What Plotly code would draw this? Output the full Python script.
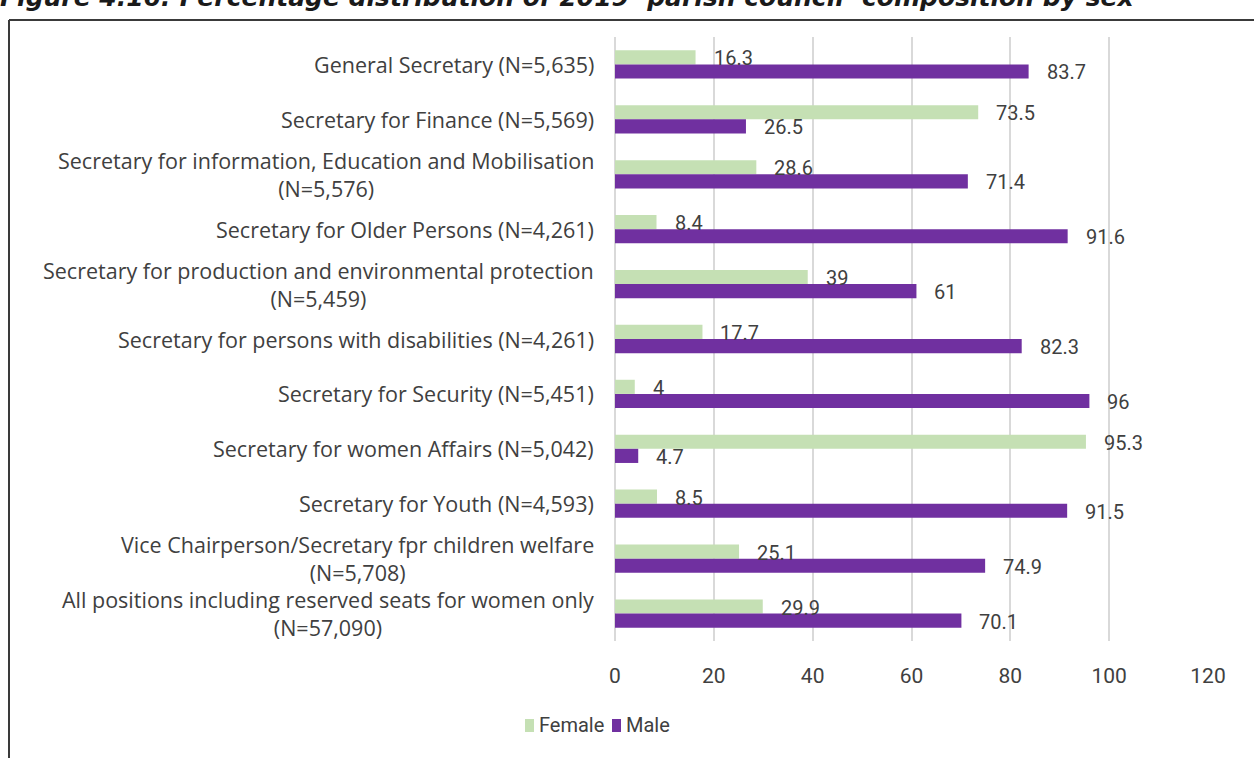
import plotly.graph_objects as go

# Parish council positions (top to bottom) and share of each sex, in percent
positions = [
    "General Secretary (N=5,635)",
    "Secretary for Finance (N=5,569)",
    "Secretary for information, Education and Mobilisation<br>(N=5,576)",
    "Secretary for Older Persons (N=4,261)",
    "Secretary for production and environmental protection<br>(N=5,459)",
    "Secretary for persons with disabilities (N=4,261)",
    "Secretary for Security (N=5,451)",
    "Secretary for women Affairs (N=5,042)",
    "Secretary for Youth (N=4,593)",
    "Vice Chairperson/Secretary fpr children welfare<br>(N=5,708)",
    "All positions including reserved seats for women only<br>(N=57,090)",
]
female = [16.3, 73.5, 28.6, 8.4, 39, 17.7, 4, 95.3, 8.5, 25.1, 29.9]
male = [83.7, 26.5, 71.4, 91.6, 61, 82.3, 96, 4.7, 91.5, 74.9, 70.1]
x_ticks = [0, 20, 40, 60, 80, 100, 120]

FEMALE_COLOR = "#C5E0B4"
MALE_COLOR = "#7030A0"
TEXT_COLOR = "#404040"
NUM_FONT = "Roboto, sans-serif"
NAME_FONT = "Open Sans, sans-serif"

cat_ids = list(range(len(positions)))

fig = go.Figure()
fig.add_trace(go.Bar(y=cat_ids, x=female, name="Female", orientation="h",
                     marker=dict(color=FEMALE_COLOR, line=dict(width=0))))
fig.add_trace(go.Bar(y=cat_ids, x=male, name="Male", orientation="h",
                     marker=dict(color=MALE_COLOR, line=dict(width=0))))

annotations = []
# value labels just beyond the bar ends
for i in cat_ids:
    for val, shift in ((female[i], 6), (male[i], -8)):
        annotations.append(dict(
            x=val, y=i, xref="x", yref="y", text=f"{val:g}",
            xanchor="left", yanchor="middle", xshift=16, yshift=shift,
            showarrow=False, font=dict(family=NUM_FONT, size=20, color=TEXT_COLOR)))

# category names, centred text block right-aligned against the axis
for i, name in enumerate(positions):
    annotations.append(dict(
        x=0, y=i, xref="paper", yref="y", text=name, align="center",
        xanchor="right", yanchor="middle", xshift=-19, showarrow=False,
        font=dict(family=NAME_FONT, size=21.5, color=TEXT_COLOR)))

PX_L, PX_W, PX_T, PX_H = 615, 593, 37, 604


def px_x(px):
    return (px - PX_L) / PX_W


def px_y(py):
    return 1 - (py - PX_T) / PX_H


# legend built from swatches and labels
legend_items = [("Female", FEMALE_COLOR, 537), ("Male", MALE_COLOR, 624)]
shapes = []
for label, color, tx in legend_items:
    shapes.append(dict(type="rect", xref="paper", yref="paper",
                       x0=px_x(tx - 12), x1=px_x(tx - 3), y0=px_y(732), y1=px_y(719),
                       fillcolor=color, line=dict(width=0)))
    annotations.append(dict(x=px_x(tx), y=px_y(725), xref="paper", yref="paper",
                            text=label, xanchor="left", yanchor="middle", showarrow=False,
                            font=dict(family=NUM_FONT, size=20, color=TEXT_COLOR)))

# figure title running off the top edge
annotations.append(dict(
    x=px_x(-2), y=px_y(-3), xref="paper", yref="paper",
    text="<b><i>Figure 4.16: Percentage distribution of 2019 \u2018parish council\u2019 composition by sex</i></b>",
    xanchor="left", yanchor="middle", showarrow=False,
    font=dict(family="DejaVu Sans, sans-serif", size=25, color="#1a1a1a")))

# frame around the chart
shapes.append(dict(type="line", xref="paper", yref="paper",
                   x0=px_x(9), x1=px_x(1300), y0=px_y(20), y1=px_y(20),
                   line=dict(color="#3a3a3a", width=2)))
shapes.append(dict(type="line", xref="paper", yref="paper",
                   x0=px_x(9), x1=px_x(9), y0=px_y(20), y1=px_y(800),
                   line=dict(color="#3a3a3a", width=2)))

fig.update_layout(
    width=1254, height=758,
    margin=dict(l=PX_L, r=1254 - PX_L - PX_W, t=PX_T, b=758 - PX_T - PX_H),
    paper_bgcolor="white", plot_bgcolor="white",
    barmode="group", bargap=0.485, bargroupgap=0,
    showlegend=False,
    annotations=annotations, shapes=shapes,
    xaxis=dict(range=[0, 120], tickvals=x_ticks, ticktext=[str(t) for t in x_ticks],
               showgrid=True, gridcolor="#D9D9D9", gridwidth=2,
               zeroline=True, zerolinecolor="#D9D9D9", zerolinewidth=2,
               showline=False, ticks="", ticklabelstandoff=20,
               tickfont=dict(family=NUM_FONT, size=21, color=TEXT_COLOR)),
    yaxis=dict(range=[len(positions) - 0.5, -0.5], showticklabels=False,
               showgrid=False, zeroline=False, showline=False, ticks=""),
)

fig.write_html("out.html")
